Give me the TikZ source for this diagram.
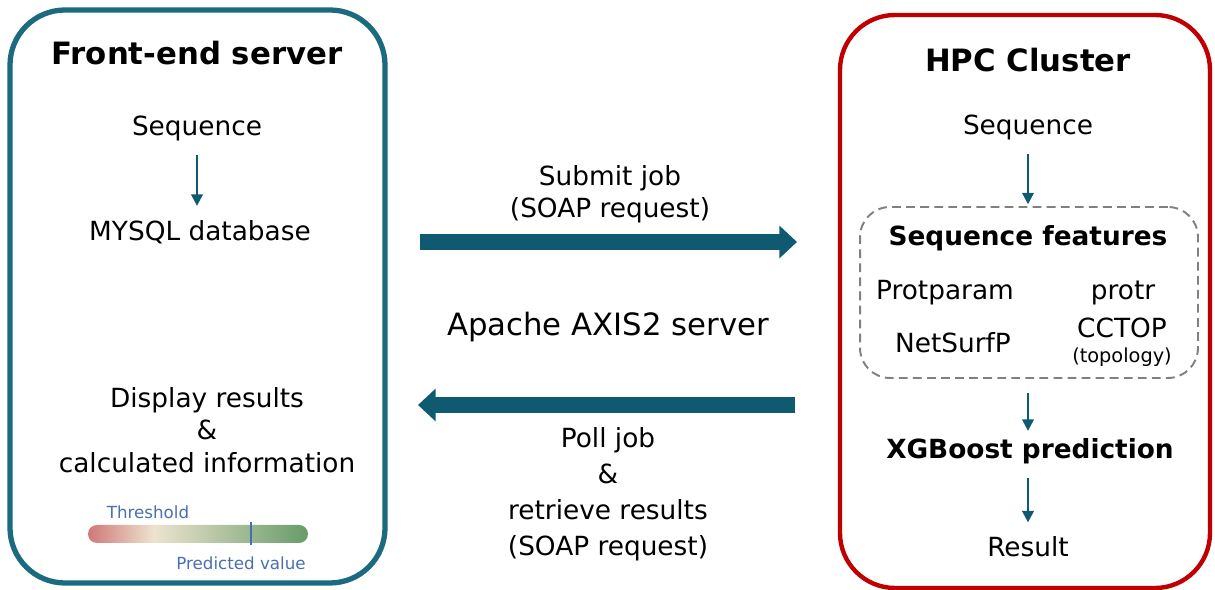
\documentclass[tikz,border=0pt]{standalone}
\usepackage{fontspec}
\setmainfont{DejaVu Sans}
\usetikzlibrary{arrows.meta}
\definecolor{frontblue}{HTML}{1B6A80}
\definecolor{hpcred}{HTML}{C00000}
\definecolor{arrowteal}{HTML}{0F5A70}
\definecolor{labelblue}{HTML}{4A6FB0}
\definecolor{barred}{HTML}{D07878}
\definecolor{barbeige}{HTML}{EDE3CF}
\definecolor{bargreen}{HTML}{679C68}
\pgfdeclarehorizontalshading{threshbar}{100bp}{color(0bp)=(barred); color(25bp)=(barred); color(40bp)=(barbeige); color(75bp)=(bargreen); color(100bp)=(bargreen)}

\begin{document}
\begin{tikzpicture}
[
x=0.02cm,y=-0.02cm,
txt/.style={font=\fontsize{15}{18.5}\selectfont,inner sep=0pt,align=center},
title/.style={font=\fontsize{17.5}{21}\selectfont\bfseries,inner sep=0pt},
btxt/.style={font=\fontsize{15}{18}\selectfont\bfseries,inner sep=0pt},
small/.style={font=\fontsize{9.5}{11}\selectfont,text=labelblue,inner sep=0pt},
flow/.style={draw=arrowteal,line width=1.3pt,-{Triangle[length=6.5pt,width=6.5pt]},shorten <=8pt,shorten >=8pt},
bigarrow/.style={draw=arrowteal,line width=9pt,-{Triangle[length=10pt,width=18pt]}},
featbox/.style={draw=gray,line width=1.1pt,dash pattern=on 5pt off 3pt,rounded corners=0.6cm,minimum width=6.76cm,minimum height=3.42cm},
]
\useasboundingbox (0,0) rectangle (1215,590);

% the two machines
\draw[frontblue,line width=3pt,rounded corners=1.1cm] (10,10) rectangle (385,583);
\draw[hpcred,line width=2.5pt,rounded corners=1.1cm] (840,15) rectangle (1210,588);

% front-end server
\node[title] (fes) at (197,53) {Front-end server};
\node[txt] (seqa) at (197,128) {Sequence};
\node[txt] (db) at (200,232) {MYSQL database};
\node[txt] (disp) at (207,430) {Display results\\\&\\calculated information};
\node[small] (thr) at (148,512) {Threshold};
\node[small] (pred) at (241,563) {Predicted value};
\shade[shading=threshbar,rounded corners=0.18cm] (88,525) rectangle (308,543);
\draw[labelblue,line width=1.2pt] (251,522) -- (251,545);

\draw[flow] (seqa) -- (seqa |- db.north);

% web service in between
\coordinate (sa) at (420,242);
\coordinate (sb) at (797,242);
\coordinate (pa) at (795,405);
\coordinate (pb) at (418,405);
\node[txt] (sub) at (610,194) {Submit job\\(SOAP request)};
\node[txt,font=\fontsize{17.5}{21}\selectfont] (axis) at (608,327) {Apache AXIS2 server};
\node[txt,font=\fontsize{15}{20.5}\selectfont] (poll) at (608,494) {Poll job\\\&\\retrieve results\\(SOAP request)};

\draw[bigarrow] (sa) -- (sb);
\draw[bigarrow] (pa) -- (pb);

% HPC cluster
\node[title] (hpc) at (1028,60) {HPC Cluster};
\node[txt] (seqb) at (1028,127) {Sequence};
\node[featbox] (feat) at (1029,292.5) {};
\node[btxt] (sf) at (1028,238) {Sequence\ features};
\node[txt] (pp) at (945,293) {Protparam};
\node[txt] (pr) at (1123,293) {protr};
\node[txt] (nsp) at (953,343) {NetSurfP};
\node[txt] (cc) at (1122,328) {CCTOP};
\node[txt,font=\fontsize{11}{13}\selectfont] (topo) at (1122,357) {(topology)};
\node[btxt] (xgb) at (1030,451) {XGBoost prediction};
\node[txt] (res) at (1028,547) {Result};

\draw[flow,shorten >=1pt] (seqb) -- (seqb |- feat.north);
\draw[flow,shorten >=4pt] (seqb |- feat.south) -- (seqb |- xgb.north);
\draw[flow] (seqb |- xgb.south) -- (seqb |- res.north);

\end{tikzpicture}
\end{document}
